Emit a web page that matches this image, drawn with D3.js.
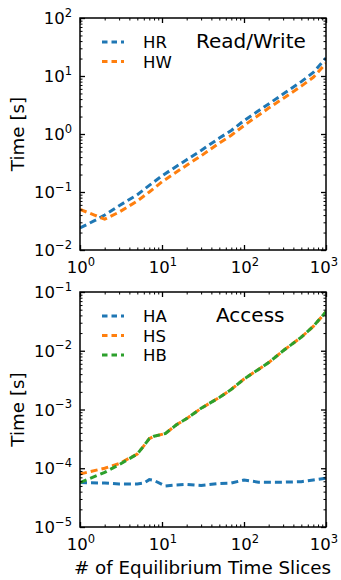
<!DOCTYPE html>
<html>
<head>
<meta charset="utf-8">
<script src="https://cdn.jsdelivr.net/npm/d3@7"></script>
<style>
  body { margin: 0; background: #fff; }
  text { font-family: "DejaVu Sans", sans-serif; fill: #000; }
</style>
</head>
<body>
<div class="d3-container"></div>
<script>
// top panel: read / write
const xsTop = [1, 1.5, 2, 3, 5, 7, 10, 20, 30, 50, 70, 100, 200, 300, 500, 700, 1000];
const hr = [0.024, 0.032, 0.040, 0.058, 0.09, 0.13, 0.19, 0.36, 0.52, 0.85, 1.15, 1.7, 3.3, 4.9, 8.0, 11.5, 20.5];
const hw = [0.050, 0.040, 0.034, 0.045, 0.07, 0.10, 0.15, 0.29, 0.42, 0.70, 0.95, 1.4, 2.8, 4.1, 6.7, 9.5, 16.5];

// bottom panel: access
const xsBot = [1, 2, 3, 5, 6, 7, 8, 11, 15, 20, 30, 50, 70, 100, 150, 200, 300, 500, 700, 1000];
const ha = [5.7e-5, 5.6e-5, 5.4e-5, 5.4e-5, 5.6e-5, 6.4e-5, 6.2e-5, 5.0e-5, 5.2e-5, 5.3e-5, 5.1e-5, 5.5e-5, 5.6e-5, 6.3e-5, 5.8e-5, 5.8e-5, 5.8e-5, 5.9e-5, 6.3e-5, 6.8e-5];
const hs = [8.0e-5, 1.0e-4, 1.2e-4, 1.75e-4, 2.4e-4, 3.2e-4, 3.5e-4, 3.9e-4, 5.5e-4, 7.0e-4, 1.05e-3, 1.6e-3, 2.2e-3, 3.3e-3, 4.8e-3, 6.3e-3, 1.0e-2, 1.7e-2, 2.6e-2, 4.6e-2];
const hb = [5.7e-5, 8.5e-5, 1.15e-4, 1.75e-4, 2.4e-4, 3.2e-4, 3.5e-4, 3.9e-4, 5.5e-4, 7.0e-4, 1.05e-3, 1.6e-3, 2.2e-3, 3.3e-3, 4.8e-3, 6.3e-3, 1.0e-2, 1.7e-2, 2.6e-2, 4.6e-2];

const xTickExp = [0, 1, 2, 3];
const yTickExpTop = [-2, -1, 0, 1, 2];
const yTickExpBot = [-5, -4, -3, -2, -1];

const colors = ["#1f77b4", "#ff7f0e", "#2ca02c"];

const width = 341;
const height = 580;

const svg = d3.select(".d3-container")
  .append("svg")
  .attr("width", width)
  .attr("height", height);

function sup(sel, exp) {
  sel.append("tspan").text("10");
  sel.append("tspan")
    .attr("font-size", 11.5)
    .attr("dy", -7.5)
    .text(exp < 0 ? "\u2212" + (-exp) : exp);
}

function minorVals(lo, hi) {
  const out = [];
  for (let e = lo; e < hi; e++)
    for (let m = 2; m <= 9; m++) out.push(m * Math.pow(10, e));
  return out;
}

function panel(box, yExp, series, xs, names, title, showXLabel) {
  const x = d3.scaleLog().domain([1, 1000]).range([box.left, box.right]);
  const y = d3.scaleLog()
    .domain([Math.pow(10, yExp[0]), Math.pow(10, yExp[yExp.length - 1])])
    .range([box.bottom, box.top]);

  const g = svg.append("g");
  const id = "clip" + box.top;
  g.append("clipPath").attr("id", id)
    .append("rect")
    .attr("x", box.left).attr("y", box.top)
    .attr("width", box.right - box.left).attr("height", box.bottom - box.top);

  const line = d3.line().x(d => x(d[0])).y(d => y(d[1]));

  series.forEach((s, i) => {
    g.append("path")
      .attr("clip-path", `url(#${id})`)
      .attr("d", line(xs.map((v, j) => [v, s[j]])))
      .attr("fill", "none")
      .attr("stroke", colors[i])
      .attr("stroke-width", 3)
      .attr("stroke-dasharray", "7,4");
  });

  const xMaj = xTickExp.map(e => Math.pow(10, e));
  const yMaj = yExp.map(e => Math.pow(10, e));
  const xMin = minorVals(0, 3);
  const yMin = minorVals(yExp[0], yExp[yExp.length - 1]);

  // ticks point inward on all four sides
  const axes = [
    [d3.axisBottom(x), `translate(0,${box.bottom})`, xMaj, xMin],
    [d3.axisTop(x), `translate(0,${box.top})`, xMaj, xMin],
    [d3.axisLeft(y), `translate(${box.left},0)`, yMaj, yMin],
    [d3.axisRight(y), `translate(${box.right},0)`, yMaj, yMin]
  ];
  axes.forEach(([ax, tr, mv, nv]) => {
    g.append("g").attr("transform", tr)
      .call(ax.tickValues(nv).tickSize(-2.5).tickFormat(""))
      .call(a => a.select(".domain").remove())
      .selectAll("line").attr("stroke", "#000").attr("stroke-width", 1);
    g.append("g").attr("transform", tr)
      .call(ax.tickValues(mv).tickSize(-5).tickFormat(""))
      .call(a => a.select(".domain").remove())
      .selectAll("line").attr("stroke", "#000").attr("stroke-width", 1.3);
  });

  g.append("rect")
    .attr("x", box.left).attr("y", box.top)
    .attr("width", box.right - box.left).attr("height", box.bottom - box.top)
    .attr("fill", "none").attr("stroke", "#000").attr("stroke-width", 1.5);

  // tick labels (last one nudged so it stays inside the page)
  xTickExp.forEach((e, i) => {
    const t = g.append("text")
      .attr("x", x(Math.pow(10, e)) + (i === xTickExp.length - 1 ? -2 : 1))
      .attr("y", box.bottom + 23)
      .attr("text-anchor", "middle")
      .attr("font-size", 16.5);
    sup(t, e);
  });
  yExp.forEach(e => {
    const t = g.append("text")
      .attr("x", box.left - 8)
      .attr("y", y(Math.pow(10, e)) + 6)
      .attr("text-anchor", "end")
      .attr("font-size", 16.5);
    sup(t, e);
  });

  g.append("text")
    .attr("transform", `translate(24,${(box.top + box.bottom) / 2}) rotate(-90)`)
    .attr("text-anchor", "middle")
    .attr("font-size", 18.3)
    .text("Time [s]");

  // legend
  names.forEach((n, i) => {
    const ly = box.top + 24 + i * 19.5;
    g.append("line")
      .attr("x1", box.left + 20).attr("x2", box.left + 44)
      .attr("y1", ly).attr("y2", ly)
      .attr("stroke", colors[i]).attr("stroke-width", 3)
      .attr("stroke-dasharray", "5.5,4").attr("stroke-dashoffset", -2);
    g.append("text")
      .attr("x", box.left + 63).attr("y", ly + 6)
      .attr("font-size", 16.5)
      .text(n);
  });

  g.append("text")
    .attr("x", title.x).attr("y", box.top + 30)
    .attr("font-size", 20)
    .text(title.text);

  if (showXLabel) {
    g.append("text")
      .attr("x", (box.left + box.right) / 2 - 0.5)
      .attr("y", box.bottom + 47)
      .attr("text-anchor", "middle")
      .attr("font-size", 18.3)
      .text("# of Equilibrium Time Slices");
  }
}

panel({left: 80, right: 326, top: 18, bottom: 250}, yTickExpTop, [hr, hw], xsTop,
  ["HR", "HW"], {text: "Read/Write", x: 196}, false);
panel({left: 80, right: 326, top: 292, bottom: 527}, yTickExpBot, [ha, hs, hb], xsBot,
  ["HA", "HS", "HB"], {text: "Access", x: 216}, true);
</script>
</body>
</html>
